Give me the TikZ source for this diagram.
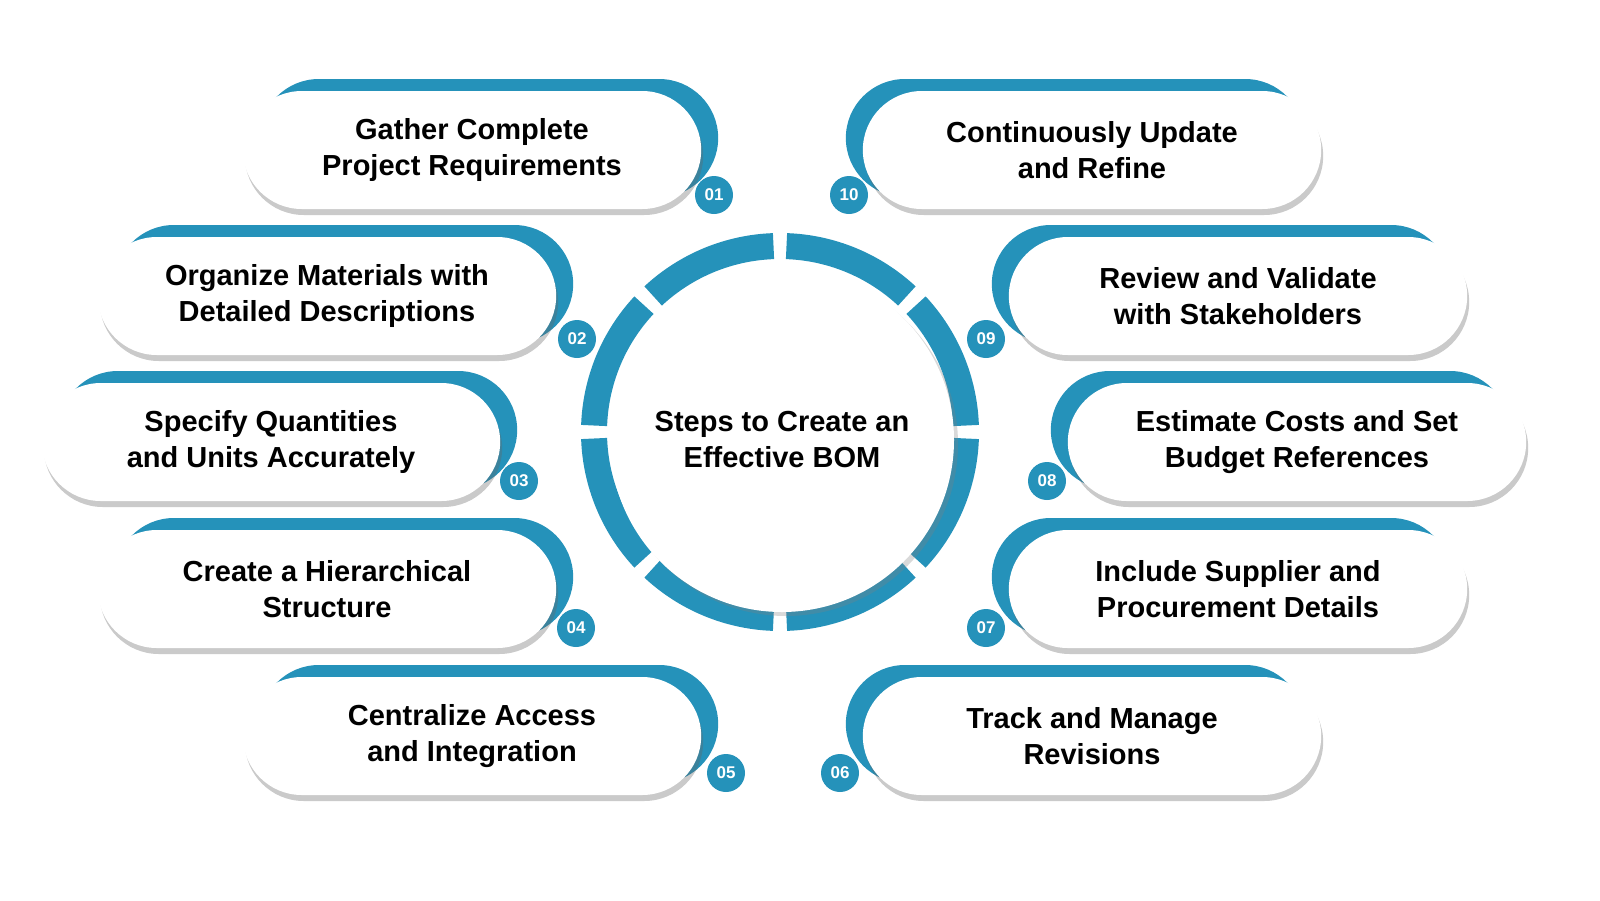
\documentclass[tikz,border=0pt]{standalone}
\usepackage{fontspec}
\setmainfont{Liberation Sans}
\usetikzlibrary{shapes.misc,shadows,calc}
\definecolor{teal1}{HTML}{2592BA}
\tikzset{
 pill/.style={rounded rectangle,minimum width=465pt,minimum height=118pt,fill=white,
   drop shadow={shadow xshift=2pt,shadow yshift=-6pt,opacity=0.35,fill=black!60},
   align=center,font=\fontsize{29pt}{36pt}\selectfont\bfseries,text=black},
 back/.style={rounded rectangle,minimum width=465pt,minimum height=118pt,fill=teal1},
 num/.style={circle,fill=teal1,minimum size=38pt,inner sep=0pt,text=white,font=\fontsize{17pt}{17pt}\selectfont\bfseries},
 seg/.style={teal1,line width=26pt}
}
\newcommand\mypill[7]{% name, cx, cy, dir, text, numx, numy/label
  \node[back] (#1b) at ({#2+#4*17},{#3-12}) {};
  \node[pill] (#1) at (#2,#3) {#5};
  \node[num] (#1n) at (#6) {#7};
}
\begin{document}
\begin{tikzpicture}[x=1pt,y=-1pt]
\useasboundingbox (0,0) rectangle (1600,900);
% ring
\foreach \a in {0,45,...,315}{
  \draw[seg] ({780+186*cos(\a+2)},{432-186*sin(\a+2)}) arc[start angle=-(\a+2),end angle=-(\a+43),radius=186];
}
\node[circle,fill=white,minimum size=344pt,drop shadow={shadow xshift=4pt,shadow yshift=-4pt,opacity=0.3},
  align=center,font=\fontsize{29pt}{36pt}\selectfont\bfseries] (c) at (782,440) {Steps to Create an\\Effective BOM};
\mypill{p1}{472}{150}{1}{Gather Complete\\Project Requirements}{714,195}{01}
\mypill{p2}{327}{296}{1}{Organize Materials with\\Detailed Descriptions}{577,339}{02}
\mypill{p3}{271}{442}{1}{Specify Quantities\\and Units Accurately}{519,481}{03}
\mypill{p4}{327}{589}{1}{Create a Hierarchical\\Structure}{576,628}{04}
\mypill{p5}{472}{736}{1}{Centralize Access\\and Integration}{726,773}{05}
\mypill{p6}{1092}{736}{-1}{Track and Manage\\Revisions}{840,773}{06}
\mypill{p7}{1238}{589}{-1}{Include Supplier and\\Procurement Details}{986,628}{07}
\mypill{p8}{1297}{442}{-1}{Estimate Costs and Set\\Budget References}{1047,481}{08}
\mypill{p9}{1238}{296}{-1}{Review and Validate\\with Stakeholders}{986,339}{09}
\mypill{p10}{1092}{150}{-1}{Continuously Update\\and Refine}{849,195}{10}
\end{tikzpicture}
\end{document}
